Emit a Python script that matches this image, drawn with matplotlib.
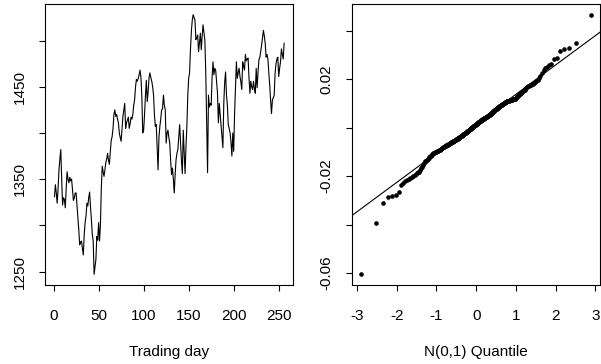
import numpy as np
import matplotlib
matplotlib.use("Agg")
import matplotlib.pyplot as plt
from statistics import NormalDist

plt.rcParams['font.family'] = ['Liberation Sans', 'DejaVu Sans']
plt.rcParams['font.size'] = 11

# Daily index level, trading days 1..256
price = [
    1331, 1344, 1335, 1324, 1340, 1360, 1372, 1382, 1350, 1322,
    1330, 1328, 1319, 1340, 1358, 1350, 1346, 1352, 1348, 1350,
    1338, 1327, 1330, 1335, 1335, 1322, 1310, 1295, 1279, 1282,
    1283, 1275, 1268, 1290, 1303, 1310, 1324, 1321, 1330, 1336,
    1320, 1306, 1290, 1283, 1247, 1255, 1263, 1288, 1284, 1303,
    1283, 1300, 1340, 1364, 1358, 1353, 1360, 1368, 1372, 1378,
    1370, 1366, 1380, 1392, 1396, 1405, 1420, 1425, 1418, 1420,
    1415, 1411, 1400, 1395, 1391, 1405, 1418, 1425, 1432, 1405,
    1411, 1414, 1417, 1405, 1410, 1417, 1415, 1420, 1430, 1436,
    1450, 1458, 1456, 1459, 1463, 1468, 1460, 1440, 1400, 1403,
    1420, 1440, 1457, 1434, 1445, 1460, 1465, 1460, 1456, 1450,
    1441, 1420, 1407, 1409, 1385, 1360, 1395, 1407, 1415, 1425,
    1426, 1441, 1430, 1425, 1389, 1400, 1403, 1395, 1389, 1370,
    1355, 1362, 1350, 1335, 1355, 1371, 1378, 1382, 1395, 1409,
    1389, 1370, 1356, 1403, 1380, 1356, 1385, 1407, 1440, 1459,
    1465, 1490, 1510, 1522, 1528, 1525, 1522, 1501, 1503, 1506,
    1488, 1498, 1508, 1490, 1505, 1517, 1508, 1500, 1465, 1410,
    1357, 1441, 1428, 1432, 1430, 1460, 1477, 1463, 1470, 1468,
    1455, 1443, 1411, 1432, 1420, 1407, 1395, 1384, 1432, 1455,
    1466, 1441, 1430, 1409, 1405, 1400, 1390, 1375, 1400, 1380,
    1421, 1450, 1477, 1459, 1465, 1470, 1461, 1455, 1447, 1477,
    1472, 1468, 1485, 1478, 1480, 1481, 1460, 1443, 1456, 1450,
    1447, 1456, 1448, 1443, 1470, 1449, 1465, 1479, 1482, 1488,
    1495, 1503, 1511, 1505, 1497, 1482, 1485, 1480, 1465, 1452,
    1435, 1421, 1436, 1438, 1441, 1465, 1475, 1480, 1482, 1461,
    1470, 1477, 1491, 1485, 1480, 1497,
]

# Ordered daily returns, 255 values
ret_sorted = [
    -0.0605, -0.0394, -0.0312, -0.0288, -0.0282, -0.0279, -0.0264, -0.0236, -0.0228, -0.0222,
    -0.0217, -0.0212, -0.0207, -0.0203, -0.0199, -0.0194, -0.0191, -0.0187, -0.0184, -0.0181,
    -0.0175, -0.0168, -0.0161, -0.0154, -0.0145, -0.0139, -0.0136, -0.0133, -0.0129, -0.0126,
    -0.0123, -0.0119, -0.0116, -0.0113, -0.0109, -0.0105, -0.0104, -0.0103, -0.0102, -0.0100,
    -0.0099, -0.0098, -0.0097, -0.0095, -0.0094, -0.0093, -0.0092, -0.0089, -0.0087, -0.0085,
    -0.0082, -0.0081, -0.0079, -0.0078, -0.0077, -0.0076, -0.0074, -0.0073, -0.0072, -0.0071,
    -0.0070, -0.0068, -0.0067, -0.0066, -0.0065, -0.0064, -0.0063, -0.0061, -0.0060, -0.0059,
    -0.0058, -0.0057, -0.0056, -0.0055, -0.0053, -0.0052, -0.0051, -0.0050, -0.0048, -0.0047,
    -0.0046, -0.0045, -0.0044, -0.0042, -0.0041, -0.0040, -0.0039, -0.0037, -0.0036, -0.0035,
    -0.0034, -0.0033, -0.0031, -0.0030, -0.0029, -0.0028, -0.0026, -0.0025, -0.0024, -0.0022,
    -0.0021, -0.0020, -0.0018, -0.0017, -0.0016, -0.0014, -0.0013, -0.0012, -0.0010, -0.0009,
    -0.0008, -0.0007, -0.0005, -0.0004, -0.0003, -0.0001, 0.0000, 0.0001, 0.0003, 0.0004,
    0.0005, 0.0007, 0.0008, 0.0009, 0.0011, 0.0012, 0.0013, 0.0014, 0.0016, 0.0017,
    0.0018, 0.0020, 0.0021, 0.0022, 0.0024, 0.0025, 0.0026, 0.0027, 0.0028, 0.0029,
    0.0030, 0.0031, 0.0032, 0.0034, 0.0035, 0.0036, 0.0037, 0.0038, 0.0039, 0.0040,
    0.0041, 0.0042, 0.0043, 0.0044, 0.0045, 0.0047, 0.0048, 0.0049, 0.0050, 0.0051,
    0.0052, 0.0054, 0.0055, 0.0057, 0.0058, 0.0060, 0.0061, 0.0063, 0.0064, 0.0066,
    0.0068, 0.0069, 0.0071, 0.0072, 0.0074, 0.0075, 0.0077, 0.0078, 0.0080, 0.0081,
    0.0083, 0.0084, 0.0086, 0.0088, 0.0089, 0.0090, 0.0092, 0.0093, 0.0095, 0.0096,
    0.0097, 0.0099, 0.0100, 0.0102, 0.0103, 0.0105, 0.0106, 0.0107, 0.0108, 0.0109,
    0.0110, 0.0110, 0.0111, 0.0112, 0.0113, 0.0114, 0.0114, 0.0115, 0.0116, 0.0117,
    0.0118, 0.0118, 0.0119, 0.0120, 0.0123, 0.0126, 0.0129, 0.0131, 0.0134, 0.0137,
    0.0139, 0.0142, 0.0145, 0.0147, 0.0150, 0.0154, 0.0157, 0.0160, 0.0164, 0.0167,
    0.0170, 0.0173, 0.0175, 0.0177, 0.0179, 0.0182, 0.0186, 0.0189, 0.0193, 0.0197,
    0.0203, 0.0215, 0.0225, 0.0238, 0.0245, 0.0252, 0.0258, 0.0264, 0.0284, 0.0288,
    0.0318, 0.0324, 0.0329, 0.0349, 0.0466,
]

left_yticks = [1250, 1300, 1350, 1400, 1450, 1500]
left_ylabels = ['1250', '', '1350', '', '1450', '']
left_xticks = [0, 50, 100, 150, 200, 250]
right_xticks = [-3, -2, -1, 0, 1, 2, 3]
right_yticks = [-0.06, -0.04, -0.02, 0.00, 0.02, 0.04]
right_ylabels = ['-0.06', '', '-0.02', '', '0.02', '']

fig = plt.figure(figsize=(6.01, 3.64), dpi=100)
W, H = 601, 364
ax1 = fig.add_axes([45.3 / W, 1 - 284.7 / H, (293.3 - 45.3) / W, (284.7 - 4.3) / H])
ax2 = fig.add_axes([352.3 / W, 1 - 284.7 / H, (600.0 - 352.3) / W, (284.7 - 4.3) / H])

day = np.arange(1, len(price) + 1)
ax1.plot(day, price, color='black', lw=0.8)
ax1.margins(0.04)
ax1.set_xticks(left_xticks)
ax1.set_yticks(left_yticks)
ax1.set_yticklabels(left_ylabels, rotation=90, va='center')
ax1.set_xlabel('Trading day')

n = len(ret_sorted)
nd = NormalDist()
q = np.array([nd.inv_cdf((i - 0.5) / n) for i in range(1, n + 1)])
r = np.array(ret_sorted)
ax2.plot(q, r, 'o', color='black', ms=3.3, mec='black', mew=0)
ax2.margins(0.04)
# reference line through the quartiles
y1, y2 = np.quantile(r, [0.25, 0.75])
x1, x2 = nd.inv_cdf(0.25), nd.inv_cdf(0.75)
slope = (y2 - y1) / (x2 - x1)
icpt = y1 - slope * x1
ax2.axline((0, icpt), slope=slope, color='black', lw=0.8)
ax2.set_xticks(right_xticks)
ax2.set_xticklabels([str(t) for t in right_xticks])
ax2.set_yticks(right_yticks)
ax2.set_yticklabels(right_ylabels, rotation=90, va='center')
ax2.set_xlabel('N(0,1) Quantile')

for ax in (ax1, ax2):
    for s in ax.spines.values():
        s.set_linewidth(0.8)
        s.set_color('black')
    ax.tick_params(direction='out', length=4.5, width=0.8, colors='black', labelsize=11)
    ax.tick_params(axis='x', pad=13)
    ax.tick_params(axis='y', pad=9)
    ax.xaxis.set_label_coords(0.5, -0.215)

fig.savefig('out.png', dpi=100)
